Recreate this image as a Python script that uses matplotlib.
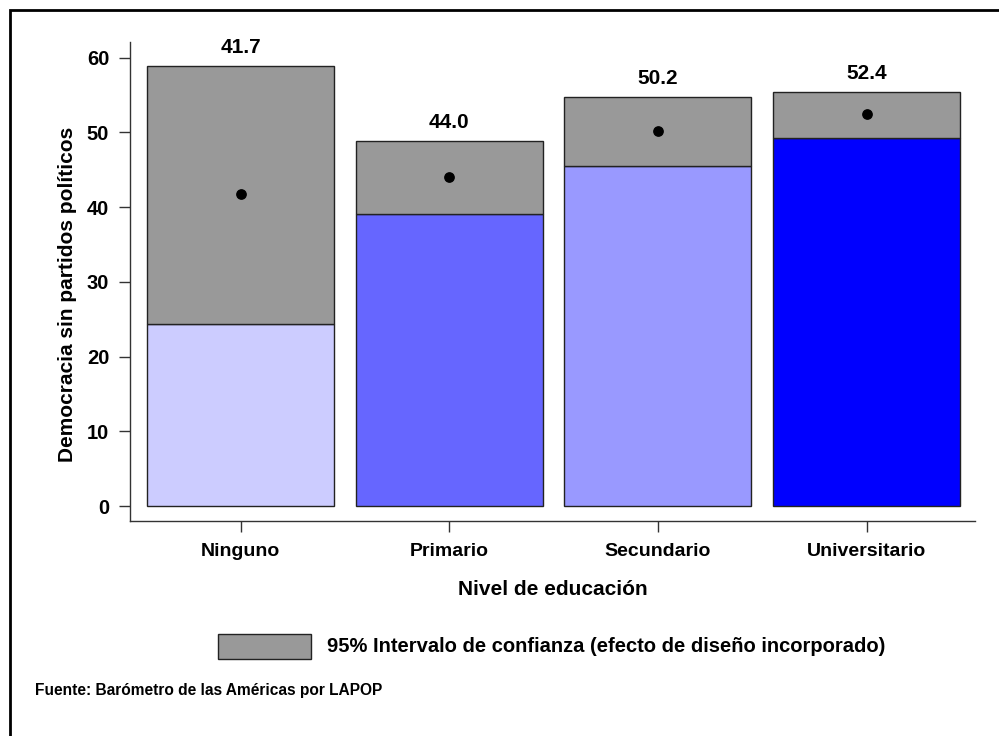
import matplotlib
matplotlib.use("Agg")
import matplotlib.pyplot as plt
from matplotlib.patches import Rectangle

plt.rcParams['font.family'] = ['Liberation Sans', 'DejaVu Sans']
plt.rcParams['font.weight'] = 'bold'

categories = ["Ninguno", "Primario", "Secundario", "Universitario"]
means = [41.7, 44.0, 50.2, 52.4]
ci_low = [24.4, 39.1, 45.5, 49.2]
ci_high = [58.9, 48.9, 54.8, 55.4]
bar_colors = ["#ccccff", "#6666ff", "#9999ff", "#0000ff"]
yticks = [0, 10, 20, 30, 40, 50, 60]

fig = plt.figure(figsize=(9.99, 7.36), dpi=100)
ax = fig.add_axes([130/999, 1-521/736, (975-130)/999, (521-42)/736])

x = list(range(len(categories)))
w = 0.897
ax.bar(x, ci_low, width=w, color=bar_colors, edgecolor="#222222", linewidth=1.0, zorder=2)
ax.bar(x, [h - l for h, l in zip(ci_high, ci_low)], bottom=ci_low, width=w,
       color="#999999", edgecolor="#222222", linewidth=1.0, zorder=2)
ax.scatter(x, means, s=45, color="black", zorder=3)
for xi, m, h in zip(x, means, ci_high):
    ax.text(xi, h + 1.2, f"{m:.1f}", ha="center", va="bottom", fontsize=15, fontweight="bold")

ax.set_xlim(-0.53, 3.52)
ax.set_ylim(-2.0, 62.1)
ax.set_yticks(yticks)
ax.set_xticks(x)
ax.set_xticklabels(categories)
ax.tick_params(axis="both", direction="out", length=8, width=1, colors="#333333", labelcolor="black")
ax.tick_params(axis="x", pad=8, labelsize=14)
ax.tick_params(axis="y", pad=7, labelsize=14.5)
for s in ["top", "right"]:
    ax.spines[s].set_visible(False)
for s in ["left", "bottom"]:
    ax.spines[s].set_linewidth(1.0)
    ax.spines[s].set_color("#333333")

ax.set_xlabel("Nivel de educación", fontsize=15, fontweight="bold", labelpad=14)
ax.set_ylabel("Democracia sin partidos políticos", fontsize=15, fontweight="bold")
ax.yaxis.set_label_coords(-0.063, 0.474)

# legend
fig.patches.append(Rectangle((218/999, 1-659/736), 93/999, 25/736, transform=fig.transFigure,
                             facecolor="#999999", edgecolor="#222222", linewidth=1.0))
fig.text(327/999, 1-647/736, "95% Intervalo de confianza (efecto de diseño incorporado)",
         ha="left", va="center", fontsize=14.5, fontweight="bold")
fig.text(35/999, 1-691/736, "Fuente: Barómetro de las Américas por LAPOP",
         ha="left", va="center", fontsize=11.2, fontweight="bold")

# frame (top and left visible)
fig.patches.append(Rectangle((10/999, -0.1), 1.2, 1 - 10/736 + 0.1, transform=fig.transFigure,
                             facecolor="none", edgecolor="black", linewidth=2.0))

fig.savefig("out.png", dpi=100)
